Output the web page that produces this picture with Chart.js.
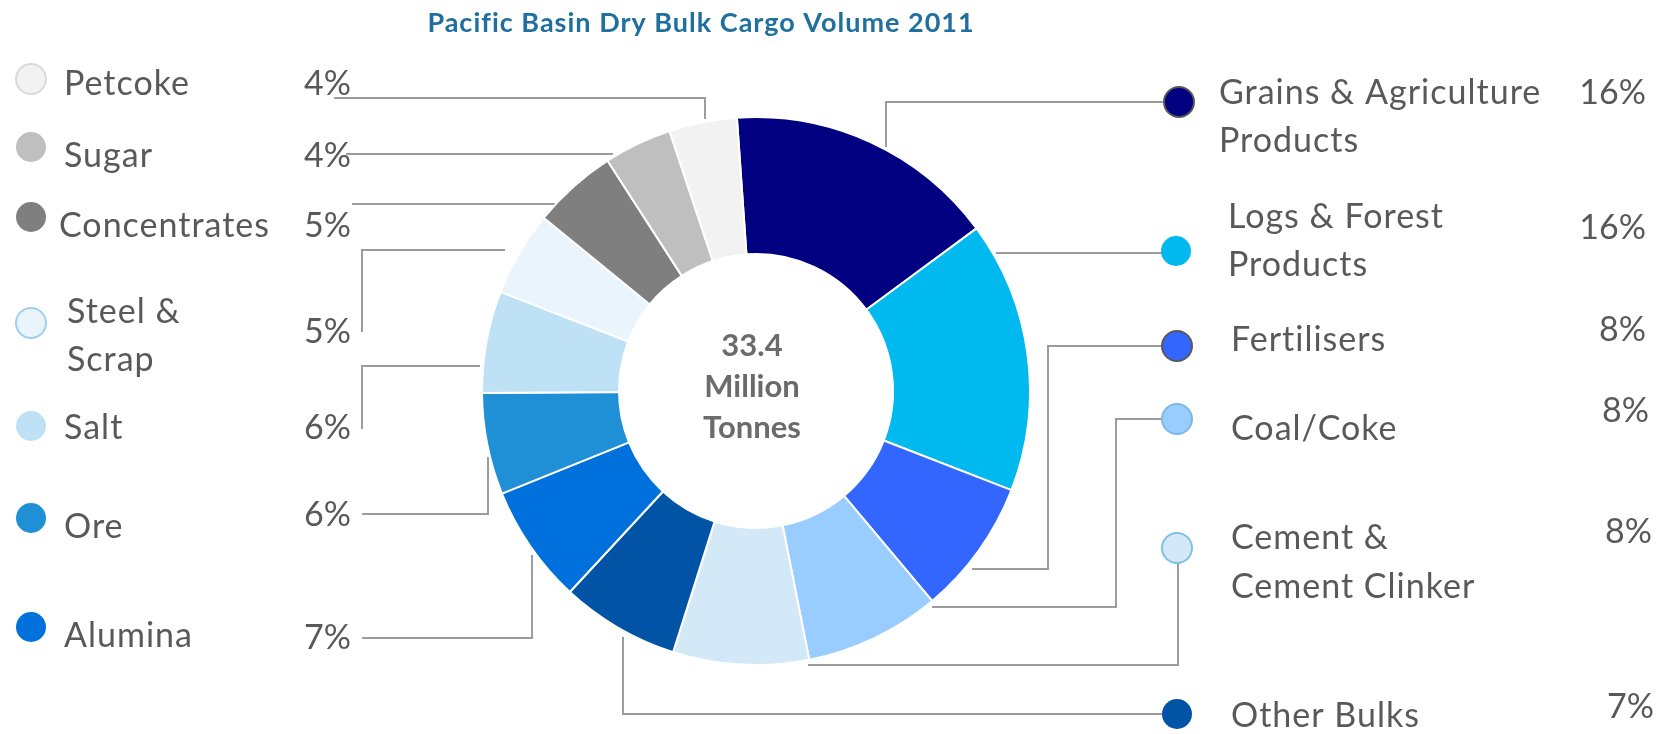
<!DOCTYPE html>
<html>
<head>
<meta charset="utf-8">
<script src="https://cdn.jsdelivr.net/npm/chart.js@4.4.1/dist/chart.umd.min.js"></script>
<style>
  html, body { margin: 0; padding: 0; background: #fff; }
  #wrap { width: 1672px; height: 734px; }
</style>
</head>
<body>
<div id="wrap"><canvas id="cargoChart" width="1672" height="734"></canvas></div>
<script>
// --- Data ---
const chartTitle = 'Pacific Basin Dry Bulk Cargo Volume 2011';
const totalLines = ['33.4', 'Million', 'Tonnes'];
const categories = ['Grains & Agriculture Products', 'Logs & Forest Products', 'Fertilisers', 'Coal/Coke',
    'Cement & Cement Clinker', 'Other Bulks', 'Alumina', 'Ore', 'Salt', 'Steel & Scrap',
    'Concentrates', 'Sugar', 'Petcoke'];
const labelLines = [['Grains & Agriculture', 'Products'], ['Logs & Forest', 'Products'], ['Fertilisers'],
    ['Coal/Coke'], ['Cement &', 'Cement Clinker'], ['Other Bulks'], ['Alumina'], ['Ore'], ['Salt'],
    ['Steel &', 'Scrap'], ['Concentrates'], ['Sugar'], ['Petcoke']];
const shares = [16, 16, 8, 8, 8, 7, 7, 6, 6, 5, 5, 4, 4];
const sliceColors = ['#000080', '#00b9ef', '#3366ff', '#99ccff', '#d3e9f8', '#0053a5', '#0070dd',
    '#1f8fd6', '#bee1f6', '#eaf4fc', '#7f7f7f', '#bfbfbf', '#f2f2f2'];

// --- Label layout (legend dots, texts, leader lines) ---
const TEXT = '#595959';
const LINE = '#9c9c9c';
const labelLayout = [
    { dot: [1179, 102], ring: '#595959', tx: 1219, ty: [93, 141], px: 1646, py: 93, side: 'r', path: [[1179, 102], [886, 102], [886, 147]] },
    { dot: [1176, 251], tx: 1228, ty: [217, 265], px: 1646, py: 228, side: 'r', path: [[1176, 253], [996, 253]] },
    { dot: [1177, 346], ring: '#595959', tx: 1231, ty: [340], px: 1646, py: 330, side: 'r', path: [[1177, 346], [1048, 346], [1048, 569], [972, 569]] },
    { dot: [1177, 419], ring: '#7ab8ea', tx: 1231, ty: [429], px: 1649, py: 411, side: 'r', path: [[1177, 419], [1116, 419], [1116, 607], [932, 607]] },
    { dot: [1177, 548], ring: '#7fbfe9', tx: 1231, ty: [538, 587], px: 1652, py: 532, side: 'r', path: [[1178, 548], [1178, 665], [808, 665]] },
    { dot: [1177, 714], tx: 1231, ty: [716], px: 1654, py: 707, side: 'r', path: [[1177, 714], [623, 714], [623, 637]] },
    { dot: [31, 627], tx: 64, ty: [636], px: 304, py: 638, side: 'l', path: [[362, 638], [532, 638], [532, 555]] },
    { dot: [31, 518], tx: 64, ty: [527], px: 304, py: 515, side: 'l', path: [[362, 514], [488, 514], [488, 457]] },
    { dot: [31, 426], tx: 64, ty: [428], px: 304, py: 428, side: 'l', path: [[362, 429], [362, 366], [480, 366]] },
    { dot: [31, 323], ring: '#9fcff0', tx: 67, ty: [312, 360], px: 304, py: 332, side: 'l', path: [[362, 332], [362, 250], [505, 250]] },
    { dot: [31, 217], tx: 59, ty: [226], px: 304, py: 226, side: 'l', path: [[352, 204], [557, 204]] },
    { dot: [31, 147], tx: 64, ty: [156], px: 304, py: 156, side: 'l', path: [[346, 154], [613, 154]] },
    { dot: [31, 79], ring: '#d9d9d9', tx: 64, ty: [84], px: 304, py: 84, side: 'l', path: [[334, 98], [705, 98], [705, 119]] }
];

// --- Plugin: title, centre text, leaders, legend ---
const annotations = {
    id: 'annotations',
    beforeDatasetsDraw(chart) {
        const ctx = chart.ctx;
        ctx.save();
        ctx.strokeStyle = LINE;
        ctx.lineWidth = 2;
        labelLayout.forEach(l => {
            ctx.beginPath();
            l.path.forEach(([x, y], i) => i ? ctx.lineTo(x, y) : ctx.moveTo(x, y));
            ctx.stroke();
        });
        ctx.restore();
    },
    afterDraw(chart) {
        const ctx = chart.ctx;
        const arc = chart.getDatasetMeta(0).data[0];
        ctx.save();

        // title
        ctx.fillStyle = '#1f6f9f';
        ctx.font = 'bold 27px Lato';
        ctx.letterSpacing = '1px';
        ctx.textAlign = 'center';
        ctx.textBaseline = 'middle';
        ctx.fillText(chartTitle, 701, 23);

        // centre text
        ctx.letterSpacing = '0px';
        ctx.fillStyle = '#6b6b6b';
        ctx.font = 'bold 31px Lato';
        totalLines.forEach((t, i) => ctx.fillText(t, arc.x - 4, arc.y - 45 + i * 41));

        // legend
        labelLayout.forEach((l, i) => {
            ctx.beginPath();
            ctx.arc(l.dot[0], l.dot[1], 15, 0, Math.PI * 2);
            ctx.fillStyle = sliceColors[i];
            ctx.fill();
            if (l.ring) {
                ctx.lineWidth = 2;
                ctx.strokeStyle = l.ring;
                ctx.stroke();
            }
            ctx.fillStyle = TEXT;
            ctx.font = '34px Lato';
            ctx.letterSpacing = '1px';
            ctx.textAlign = 'left';
            labelLines[i].forEach((t, j) => ctx.fillText(t, l.tx, l.ty[j]));
            ctx.letterSpacing = '0px';
            ctx.textAlign = l.side === 'r' ? 'right' : 'left';
            ctx.fillText(shares[i] + '%', l.px, l.py);
        });
        ctx.restore();
    }
};

new Chart(document.getElementById('cargoChart'), {
    type: 'doughnut',
    data: {
        labels: categories,
        datasets: [{
            data: shares,
            backgroundColor: sliceColors,
            borderColor: '#ffffff',
            borderWidth: 2
        }]
    },
    options: {
        responsive: false,
        animation: false,
        rotation: -4,
        cutout: '50%',
        layout: { padding: { top: 116, bottom: 68, left: 481, right: 641 } },
        plugins: { legend: { display: false }, tooltip: { enabled: false } }
    },
    plugins: [annotations]
});
</script>
</body>
</html>
